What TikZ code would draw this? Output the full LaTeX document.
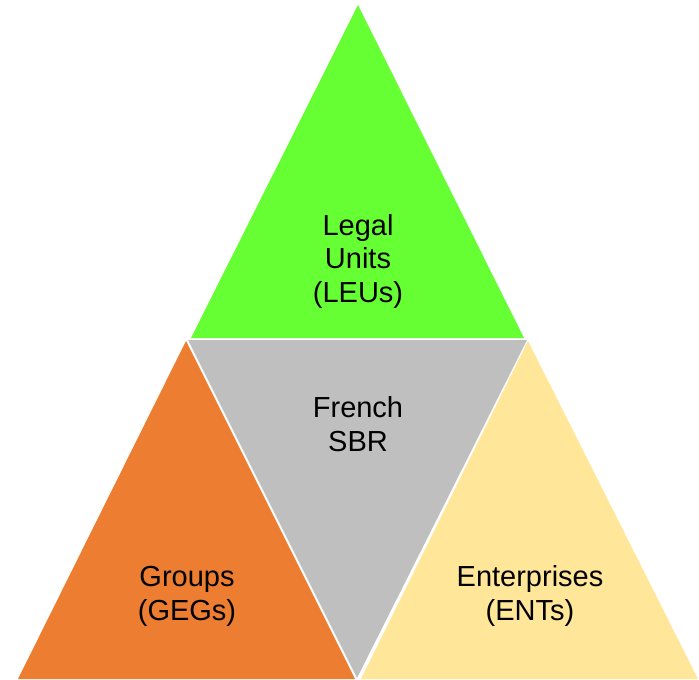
\documentclass[tikz,border=0pt]{standalone}
\usepackage{fontspec}
\setmainfont{Liberation Sans}
\definecolor{leugreen}{RGB}{102,255,51}
\definecolor{sbrgray}{RGB}{191,191,191}
\definecolor{gegorange}{RGB}{237,125,49}
\definecolor{entyellow}{RGB}{255,230,153}
\tikzset{
  lbl/.style={align=center, inner sep=0pt, anchor=base, font=\fontsize{29}{33.5}\selectfont, text=black}
}
\begin{document}
\begin{tikzpicture}[x=1pt,y=-1pt]
\useasboundingbox (0,0) rectangle (699,680);
% triangles
\fill[leugreen] (358,5) -- (524,338) -- (191,338) -- cycle;
\fill[sbrgray] (188,340) -- (527,340) -- (357,678) -- cycle;
\fill[gegorange] (186,341) -- (355,679) -- (18,679) -- cycle;
\fill[entyellow] (528,341) -- (698,679) -- (361,679) -- cycle;
% labels (anchor = baseline of last line)
\node[lbl] (leu) at (358,302) {Legal\\Units\\(LEUs)};
\node[lbl] (sbr) at (358,451) {French\\SBR};
\node[lbl] (geg) at (187,620) {Groups\\(GEGs)};
\node[lbl] (ent) at (530,620) {Enterprises\\(ENTs)};
\end{tikzpicture}
\end{document}
